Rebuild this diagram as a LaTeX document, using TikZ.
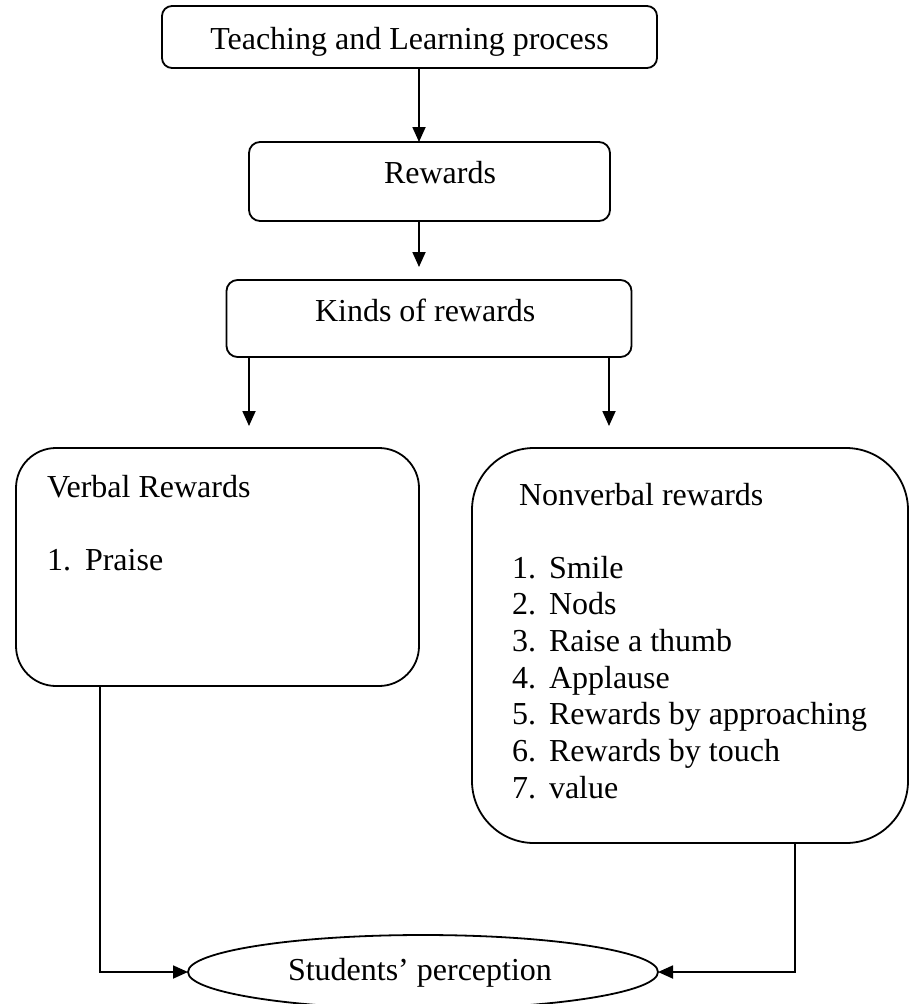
\documentclass[tikz,border=0pt]{standalone}
\usepackage{fontspec}
\setmainfont{Liberation Serif}
\usetikzlibrary{arrows.meta,shapes.geometric}
\begin{document}
\begin{tikzpicture}[x=1pt,y=-1pt,
  box/.style={draw, line width=1.8pt, inner sep=0pt, outer sep=0pt},
  txt/.style={font=\fontsize{32}{36}\selectfont, inner sep=0pt, outer sep=0pt, anchor=base west},
  arr/.style={line width=1.8pt, -{Triangle[length=15pt,width=13pt]}},
  conn/.style={line width=1.8pt}]
\useasboundingbox (0,0) rectangle (909,1004);
% boxes
\node[box, rounded corners=10pt, minimum width=495pt, minimum height=62pt] (tl) at (409.5,37) {};
\node[box, rounded corners=11pt, minimum width=361pt, minimum height=79pt] (rw) at (429.5,181.5) {};
\node[box, rounded corners=11pt, minimum width=405pt, minimum height=77pt] (kd) at (429,318.5) {};
\node[box, rounded corners=40pt, minimum width=403pt, minimum height=238pt] (vb) at (217.5,567) {};
\node[box, rounded corners=62pt, minimum width=436pt, minimum height=395pt] (nv) at (690,645.5) {};
\node[box, ellipse, minimum width=470pt, minimum height=74pt] (sp) at (423,972) {};
% texts
\node[txt, anchor=base] (tlt) at (409.5,49) {Teaching and Learning process};
\node[txt] (rwt) at (384,183) {Rewards};
\node[txt] (kdt) at (315,321) {Kinds of rewards};
\node[txt] (vbt) at (47,497) {Verbal Rewards};
\node[txt] (vb1n) at (47,570) {1.};
\node[txt] (vb1) at (85,570) {Praise};
\node[txt] (nvt) at (519,505) {Nonverbal rewards};
\foreach \k/\t [count=\i from 0] in {1/Smile,2/Nods,3/Raise a thumb,4/Applause,5/Rewards by approaching,6/Rewards by touch,7/value}{
  \node[txt] (nvn\k) at (512,578+36.67*\i) {\k.};
  \node[txt] (nvi\k) at (549,578+36.67*\i) {\t};
}
\node[txt] (spt) at (288,980) {Students’ perception};
% free ends
\coordinate (vtip) at (249,426);
\coordinate (ntip) at (609,426);
% connectors
\draw[arr] ([xshift=9.5pt]tl.south) -- ([xshift=-10.5pt]rw.north);
\draw[arr] ([xshift=-10.5pt]rw.south) -- ([xshift=-10pt,yshift=13pt]kd.north);
\draw[arr] (kd.south -| vtip) -- (vtip);
\draw[arr] (kd.south -| ntip) -- (ntip);
\draw[arr] ([xshift=84pt]vb.south west) |- (sp.west);
\draw[arr] ([xshift=323pt]nv.south west) |- (sp.east);
\end{tikzpicture}
\end{document}
